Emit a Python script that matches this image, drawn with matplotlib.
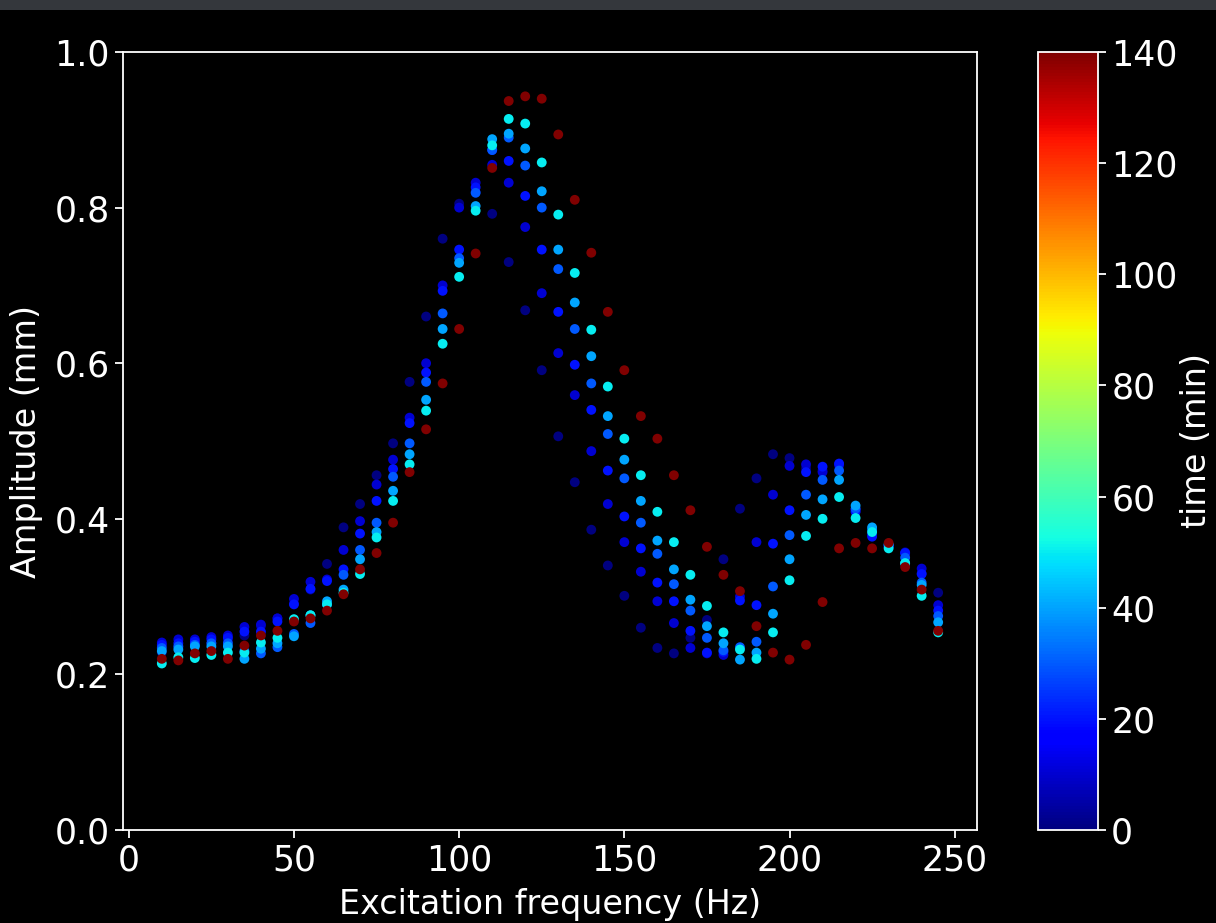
import matplotlib
matplotlib.use("Agg")
import matplotlib.pyplot as plt
import numpy as np
from matplotlib.patches import Rectangle

# excitation frequencies (Hz)
freq = list(range(10, 250, 5))

# measurement times (min)
times = [0, 10, 20, 30, 40, 50, 140]

# amplitude (mm) per time
amp_t0 = [0.228, 0.235, 0.238, 0.240, 0.243, 0.250, 0.262, 0.272, 0.291, 0.309,
          0.342, 0.389, 0.419, 0.456, 0.497, 0.576, 0.660, 0.760, 0.805, 0.820,
          0.792, 0.730, 0.668, 0.591, 0.506, 0.447, 0.386, 0.340, 0.301, 0.260,
          0.234, 0.227, 0.247, 0.270, 0.348, 0.413, 0.452, 0.483, 0.478, 0.465,
          0.462, 0.468, 0.410, 0.380, 0.366, 0.357, 0.330, 0.305]
amp_t10 = [0.241, 0.245, 0.245, 0.248, 0.250, 0.261, 0.264, 0.272, 0.297, 0.319,
           0.322, 0.360, 0.397, 0.444, 0.476, 0.530, 0.600, 0.700, 0.800, 0.832,
           0.855, 0.832, 0.775, 0.690, 0.613, 0.559, 0.487, 0.419, 0.370, 0.332,
           0.294, 0.266, 0.234, 0.227, 0.225, 0.300, 0.370, 0.431, 0.468, 0.470,
           0.460, 0.470, 0.412, 0.380, 0.365, 0.356, 0.336, 0.289]
amp_t20 = [0.238, 0.240, 0.242, 0.245, 0.247, 0.255, 0.255, 0.268, 0.290, 0.310,
           0.320, 0.335, 0.381, 0.423, 0.464, 0.523, 0.588, 0.693, 0.746, 0.826,
           0.874, 0.860, 0.815, 0.746, 0.666, 0.598, 0.540, 0.462, 0.403, 0.362,
           0.318, 0.294, 0.256, 0.228, 0.229, 0.295, 0.289, 0.368, 0.411, 0.460,
           0.467, 0.471, 0.409, 0.377, 0.364, 0.356, 0.329, 0.282]
amp_t30 = [0.234, 0.236, 0.238, 0.240, 0.240, 0.230, 0.227, 0.235, 0.252, 0.266,
           0.290, 0.328, 0.360, 0.395, 0.454, 0.497, 0.576, 0.664, 0.735, 0.819,
           0.874, 0.890, 0.854, 0.800, 0.721, 0.644, 0.574, 0.509, 0.452, 0.395,
           0.355, 0.316, 0.282, 0.247, 0.231, 0.235, 0.242, 0.313, 0.379, 0.431,
           0.450, 0.462, 0.413, 0.386, 0.366, 0.350, 0.318, 0.275]
amp_t40 = [0.230, 0.232, 0.236, 0.236, 0.236, 0.220, 0.233, 0.240, 0.249, 0.276,
           0.294, 0.309, 0.348, 0.383, 0.436, 0.483, 0.553, 0.644, 0.729, 0.802,
           0.888, 0.895, 0.876, 0.821, 0.746, 0.678, 0.609, 0.532, 0.476, 0.423,
           0.372, 0.335, 0.296, 0.262, 0.240, 0.219, 0.228, 0.278, 0.348, 0.405,
           0.425, 0.450, 0.417, 0.389, 0.367, 0.343, 0.315, 0.267]
amp_t50 = [0.214, 0.222, 0.221, 0.225, 0.228, 0.228, 0.241, 0.247, 0.271, 0.276,
           0.290, 0.305, 0.329, 0.376, 0.423, 0.470, 0.539, 0.625, 0.711, 0.796,
           0.880, 0.914, 0.908, 0.858, 0.791, 0.716, 0.643, 0.570, 0.503, 0.456,
           0.409, 0.370, 0.328, 0.288, 0.254, 0.232, 0.220, 0.254, 0.321, 0.378,
           0.400, 0.428, 0.401, 0.383, 0.362, 0.343, 0.301, 0.254]
amp_t140 = [0.220, 0.218, 0.227, 0.230, 0.220, 0.237, 0.250, 0.256, 0.268, 0.272,
            0.282, 0.303, 0.335, 0.356, 0.395, 0.460, 0.515, 0.574, 0.644, 0.741,
            0.851, 0.937, 0.943, 0.940, 0.894, 0.810, 0.742, 0.666, 0.591, 0.532,
            0.503, 0.456, 0.411, 0.364, 0.328, 0.307, 0.262, 0.228, 0.219, 0.238,
            0.293, 0.362, 0.369, 0.362, 0.369, 0.338, 0.309, 0.256]

amps = [amp_t0, amp_t10, amp_t20, amp_t30, amp_t40, amp_t50, amp_t140]

plt.rcParams['font.family'] = ['DejaVu Sans']
fig = plt.figure(figsize=(12.16, 9.23), dpi=100, facecolor='black')
# screenshot strip at the top
fig.patches.append(Rectangle((0, 1 - 10 / 923), 1, 10 / 923, transform=fig.transFigure,
                             facecolor='#34373c', edgecolor='none', zorder=0))

ax = fig.add_axes([123 / 1216, 1 - 830 / 923, 854 / 1216, 778 / 923])
cax = fig.add_axes([1038 / 1216, 1 - 830 / 923, 60 / 1216, 778 / 923])
ax.set_facecolor('black')

x_all = np.concatenate([freq for _ in times])
y_all = np.concatenate(amps)
c_all = np.concatenate([[t] * len(freq) for t in times])

sc = ax.scatter(x_all, y_all, c=c_all, cmap='jet', vmin=0, vmax=140, s=50,
                edgecolors='none')
ax.set_ylim(0, 1.0)
ax.set_xticks([0, 50, 100, 150, 200, 250])
ax.set_xlabel('Excitation frequency (Hz)', color='white', fontsize=24, labelpad=8)
ax.set_ylabel('Amplitude (mm)', color='white', fontsize=24, labelpad=8)

for a in (ax, cax):
    a.tick_params(colors='white', labelsize=25, length=6, width=1.3)
    for sp in a.spines.values():
        sp.set_color('white')
        sp.set_linewidth(1.3)

cb = fig.colorbar(sc, cax=cax)
cb.set_ticks([0, 20, 40, 60, 80, 100, 120, 140])
cb.set_label('time (min)', color='white', fontsize=24, labelpad=2)
cb.outline.set_edgecolor('white')
cb.outline.set_linewidth(1.3)

fig.savefig('out.png', dpi=100, facecolor='black')
